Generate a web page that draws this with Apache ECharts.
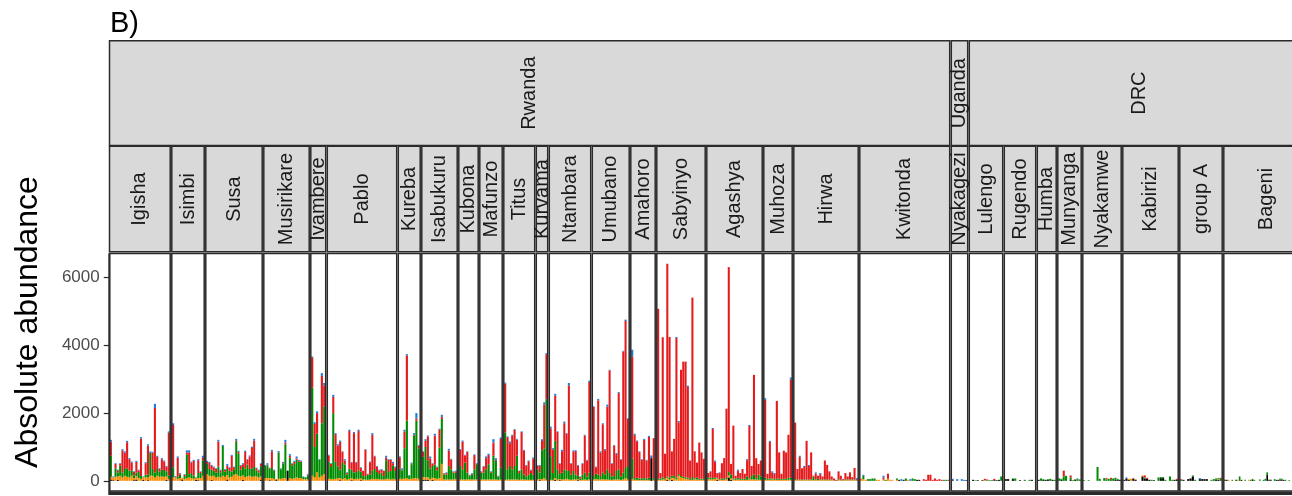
<!DOCTYPE html>
<html>
<head>
<meta charset="utf-8">
<script src="https://cdn.jsdelivr.net/npm/echarts@6/dist/echarts.min.js"></script>
<style>html,body{margin:0;padding:0;background:#fff;}#c{width:1292px;height:496px;}</style>
</head>
<body>
<div id="c"></div>
<script>
// ---------------- data ----------------
const panelNames = ['Igisha','Isimbi','Susa','Musirikare','Ivambere','Pablo','Kureba','Isabukuru','Kubona','Mafunzo','Titus','Kurvama','Ntambara','Umubano','Amahoro','Sabyinyo','Agashya','Muhoza','Hirwa','Kwitonda','Nyakagezi','Lulengo','Rugendo','Humba','Munyanga','Nyakamwe','Kabirizi','group A','Bageni'];
const countryNames = ['Rwanda','Uganda','DRC'];
const countryPanelCounts = [20, 1, 8];
const yTickValues = [0, 2000, 4000, 6000];

// stacked components, bottom to top: black, orange, green, red, blue (one inner array per group)
const blackVals = [
  [40,20,0,30,0,0,0,0,0,0, 20,40,0,0,30,0,20,0,0,0, 0,0,0,0,30,0],
  [0,0,0,0,40,0,0,0,0,0, 30,20,0,0],
  [0,0,30,0,0,0,0,0,0,40, 0,0,0,0,0,0,30,0,0,0, 0,0,0,0,30],
  [0,0,20,0,0,40,0,0,0,0, 300,0,0,0,0,0,0,0,0,0],
  [0,0,0,0,0,0],
  [0,0,0,0,0,20,0,0,0,0, 20,0,0,0,20,0,0,0,0,0, 0,0,0,0,0,0,0,0,0,0],
  [0,0,0,0,0,0,0,0,0],
  [30,40,30,0,30,0,0,0,0,0, 0,0,0,0,0],
  [0,0,0,0,0,0,0,0],
  [0,0,0,0,0,0,0,0,0],
  [0,0,0,0,0,0,0,0,0,0, 0,0,0],
  [0,20,0,0,0],
  [0,0,30,0,20,0,0,0,0,0, 0,0,20,0,0,0,0,0],
  [0,0,0,0,0,0,0,0,0,0, 0,0,0,0,0,0],
  [0,0,0,0,0,0,0,0,670,0],
  [0,0,0,0,30,0,30,0,0,0, 0,0,0,0,0,0,0,0,0,0, 0],
  [0,0,0,0,30,0,0,0,0,100, 30,0,0,0,0,0,0,0,0,0, 0,0,0,0],
  [0,0,0,0,0,0,0,0,0,0, 0,0],
  [0,0,0,0,0,0,0,0,0,0, 0,0,0,0,0,0,0,0,0,0, 0,0,0,0,0,0,0,0],
  [0,0,0,0,0,0,0,0,0,0, 0,0,0,0,0,0,0,30,0,30, 0,0,0,0,0,30,30,0,0,0, 0,0,0,0,0,0,0,0,0,0],
  [20,0,0,0,0,0,20],
  [0,30,0,20,0,20,0,0,0,0, 20,20,30,0],
  [50,50,0,50,0,0,20,0,0,0, 0,30,0],
  [30,0,30,30,30,0,30,0],
  [0,30,0,0,0,40,0,40,0,0],
  [0,0,0,0,0,0,0,0,0,0, 0,0,0,0,30,30,30],
  [30,70,30,0,70,30,0,0,130,70, 60,30,0,20,0,0,80,80,0,0, 0,0,30,30],
  [0,30,0,50,70,130,0,0,50,50, 50,50,0,0,0,30,30,0],
  [30,30,0,0,0,0,30,0,0,30, 0,0,0,0,0,30,0,0,0,0, 0,0,0,170,30,30,0,0,30,30, 30,30,30,0,0,0,0]
];
const orangeVals = [
  [80,80,120,100,150,100,150,120,100,150, 60,100,80,60,80,100,80,150,150,100, 150,120,130,120,100,60],
  [100,110,60,80,50,60,80,100,80,60, 50,60,80,150],
  [200,150,100,150,100,120,100,150,120,130, 100,120,180,200,150,130,130,110,130,150, 120,130,130,100,100],
  [80,80,60,80,60,20,60,60,80,80, 0,80,60,80,100,80,80,50,50,40],
  [150,100,250,100,150,200],
  [60,60,50,60,80,60,50,80,40,60, 60,50,60,60,50,40,40,30,40,60, 50,60,50,40,40,60,60,40,60,40],
  [60,60,60,80,50,60,80,80,60],
  [80,60,80,60,60,80,60,80,500,40, 40,40,40,40,60],
  [40,40,40,40,40,40,40,40],
  [40,40,40,40,40,40,40,30,40],
  [30,40,40,40,40,40,30,40,40,30, 30,30,30],
  [40,30,50,80,30],
  [30,30,50,40,30,40,40,60,40,30, 40,40,30,20,30,40,30,40],
  [40,60,40,40,50,40,40,30,30,40, 40,40,30,40,80,40],
  [60,30,30,20,20,30,20,30,0,30],
  [30,30,40,40,60,40,60,80,40,150, 100,80,60,60,30,30,40,40,30,30, 30],
  [60,40,40,60,40,30,30,30,50,60, 40,40,30,40,30,30,30,30,40,40, 40,40,30,30],
  [30,30,30,40,30,30,30,20,30,30, 30,30],
  [20,20,20,20,20,20,20,20,20,20, 20,20,20,20,20,20,20,10,0,20, 20,10,20,20,20,20,20,10],
  [40,50,30,0,0,0,0,30,30,0, 40,0,60,30,30,0,30,0,0,0, 0,30,0,0,0,0,0,0,0,0, 0,0,0,0,0,0,0,0,0,0],
  [0,0,0,0,0,0,0],
  [0,0,0,0,0,0,20,0,0,0, 0,0,0,0],
  [0,0,0,0,0,0,0,0,0,0, 0,0,0],
  [0,0,0,0,0,0,0,0],
  [0,0,0,0,0,0,0,10,0,0],
  [0,0,0,0,0,0,0,0,0,0, 0,0,0,0,0,0,0],
  [0,0,30,60,0,20,0,0,30,0, 0,0,0,0,0,0,0,0,0,0, 0,0,0,0],
  [0,0,0,0,0,0,0,0,0,0, 0,0,0,0,0,0,20,0],
  [0,0,30,0,0,0,0,30,0,0, 0,0,0,30,0,0,0,0,0,0, 0,0,0,0,0,0,0,0,0,0, 0,0,0,0,0,0,0]
];
const greenVals = [
  [620,0,250,120,300,150,200,250,200,150, 80,100,180,80,0,80,80,680,200,150, 200,150,200,200,150,100],
  [300,0,60,100,0,80,700,100,150,100, 20,150,150,450],
  [300,200,200,150,150,300,150,880,150,180, 200,150,150,950,650,200,250,250,350,200, 250,280,180,150,300],
  [370,380,280,300,230,0,780,280,420,1000, 0,600,400,420,520,480,480,60,50,120],
  [2600,900,1150,520,1550,2000],
  [500,350,1950,500,350,250,500,400,150,300, 250,200,200,250,200,100,100,150,150,250, 300,200,150,200,100,550,200,250,400,250],
  [300,250,900,1700,100,430,1250,1700,900],
  [600,900,500,300,350,400,250,900,1330,150, 150,400,300,200,180],
  [400,300,500,200,100,150,300,450],
  [200,200,300,450,200,700,550,100,350],
  [1400,300,400,300,400,700,200,300,150,100, 150,200,150],
  [300,200,850,880,2380],
  [700,200,1100,300,150,200,300,250,250,150, 250,150,100,50,150,200,100,200],
  [100,150,150,100,200,150,300,200,100,100, 250,300,100,200,300,400],
  [600,50,60,50,50,50,50,60,0,50],
  [30,40,60,30,40,60,60,60,60,50, 40,40,40,40,30,80,30,60,30,30, 30],
  [40,60,40,40,20,20,40,30,40,100, 120,30,40,50,30,30,30,100,30,100, 150,40,150,100],
  [60,30,40,30,30,30,30,30,30,30, 60,60],
  [30,20,20,20,20,20,20,20,100,20, 40,20,20,20,20,20,20,10,0,20, 20,10,20,20,20,20,20,10],
  [0,100,0,50,50,70,70,0,0,0, 0,30,0,0,0,0,40,0,0,0, 70,0,0,70,50,0,0,0,0,0, 0,0,0,0,0,0,0,30,30,0],
  [0,0,0,0,0,0,0],
  [0,0,15,0,0,0,0,20,20,20, 0,0,0,130],
  [0,0,0,20,70,0,0,0,30,0, 30,0,0],
  [0,70,20,0,20,60,0,30],
  [70,30,130,150,0,60,20,0,50,40],
  [20,0,20,0,0,0,410,60,0,80, 40,60,50,70,60,30,0],
  [0,0,0,0,0,0,0,0,0,30, 0,0,30,0,0,100,30,30,30,0, 130,30,0,0],
  [30,0,0,0,0,30,30,0,0,0, 0,0,0,30,50,40,30,60],
  [0,0,0,0,30,0,0,0,130,0, 0,30,0,0,30,30,30,0,0,40, 0,30,60,80,0,0,0,50,0,0, 40,30,0,30,0,20,0]
];
const redVals = [
  [420,0,130,60,50,650,480,770,340,240, 100,320,50,1110,0,340,860,0,480,1900, 360,80,310,250,140,1260],
  [1250,0,560,30,0,40,60,640,310,430, 0,380,30,90],
  [60,180,110,100,100,740,60,0,60,100, 80,470,70,30,60,120,80,490,140,370, 600,780,60,60,70],
  [0,20,20,490,20,0,0,10,20,50, 0,60,40,60,40,30,20,0,0,20],
  [900,680,600,0,1400,620],
  [190,90,480,820,610,820,300,120,40,1110, 210,1160,280,1160,110,150,780,20,360,1050, 370,160,110,90,150,80,360,330,60,110],
  [340,20,500,1920,0,20,30,60,80],
  [140,180,700,300,60,860,90,540,60,20, 40,455,290,20,40],
  [470,820,210,610,20,20,420,10],
  [20,180,330,270,20,390,30,10,850],
  [1440,950,670,990,1070,480,60,1100,705,320, 400,80,480],
  [100,200,280,1300,1330],
  [820,700,1330,1100,300,635,1360,1080,2530,320, 570,690,300,50,320,1100,470,2680],
  [2040,190,2190,700,1420,715,1850,3030,370,900, 500,2250,490,3580,4340,1390],
  [3010,1270,1080,780,550,1130,530,1210,0,1180],
  [5020,160,4140,730,6280,4150,720,1100,4120,1530, 3140,3400,3420,2670,540,5300,800,440,1070,780, 590],
  [130,180,1450,470,140,180,450,610,2040,6050, 310,1560,80,210,170,290,150,480,1550,300, 2940,590,320,470],
  [2300,150,1080,180,140,2300,780,160,830,780, 1270,2900],
  [1670,310,670,330,370,1140,400,800,30,180, 90,160,90,560,430,240,90,50,30,240, 110,30,190,90,210,70,340,30],
  [20,0,0,0,0,0,0,0,0,0, 60,0,150,0,0,0,0,0,0,0, 0,0,0,0,0,0,0,0,50,30, 180,180,30,70,30,50,30,0,0,30],
  [0,0,0,0,0,0,0],
  [0,0,0,0,0,0,40,20,0,0, 40,0,0,0],
  [0,0,0,0,0,0,0,0,0,0, 0,0,0],
  [0,0,0,0,0,0,0,0],
  [0,0,170,0,0,60,0,0,0,0],
  [0,0,0,0,0,0,0,0,0,0, 40,0,40,0,0,0,0],
  [0,0,0,0,0,0,0,0,0,60, 30,0,0,0,0,0,0,0,0,0, 0,0,0,30],
  [20,0,0,0,0,0,0,0,0,0, 0,0,0,0,0,0,0,30],
  [0,0,0,0,0,0,0,0,0,0, 0,0,0,0,0,0,0,0,0,0, 0,0,0,0,0,0,0,0,0,0, 0,0,0,0,0,0,0]
];
const blueVals = [
  [50,30,20,20,20,35,40,40,30,30, 20,30,20,40,20,30,40,40,30,125, 30,20,30,30,20,40],
  [50,30,40,20,0,20,60,60,30,30, 0,30,20,50],
  [30,30,30,20,20,50,20,30,20,50, 20,30,20,60,30,20,30,40,20,30, 40,50,20,20,20],
  [20,40,10,45,20,0,40,20,40,80, 0,50,20,30,60,30,20,20,10,20],
  [20,50,50,20,80,70],
  [20,20,60,30,40,40,20,40,20,40, 20,30,20,40,20,10,15,10,20,50, 20,20,20,20,10,50,20,20,40,20],
  [20,40,50,40,20,30,50,160,20],
  [20,50,30,60,20,50,20,20,60,20, 20,50,20,20,20],
  [25,30,20,20,20,20,20,20],
  [20,20,50,40,20,100,50,10,40],
  [30,20,50,30,20,20,10,20,20,20, 20,20,30],
  [20,20,50,60,30],
  [50,35,60,20,20,40,50,20,70,20, 40,20,20,10,20,20,20,40],
  [20,20,40,30,30,30,60,20,20,20, 30,30,20,20,40,20],
  [200,40,20,20,20,30,20,30,80,0],
  [0,0,0,0,0,0,0,0,30,40, 0,0,0,40,0,0,0,0,0,0, 0],
  [0,0,30,30,0,20,0,0,0,0, 0,0,0,30,0,0,0,30,30,0, 0,0,0,0],
  [50,0,30,30,30,0,0,0,0,0, 0,60],
  [0,0,30,0,30,0,30,0,0,30, 0,30,0,0,0,0,0,0,0,0, 0,0,0,0,0,0,0,30],
  [0,30,0,0,0,0,0,0,0,0, 50,0,0,0,0,0,0,0,50,0, 0,0,50,0,0,0,0,0,0,0, 0,0,0,0,0,0,0,0,0,0],
  [40,0,50,0,50,30,0],
  [0,0,0,0,0,0,0,0,0,0, 0,0,0,0],
  [0,0,0,0,0,0,0,0,0,0, 0,0,0],
  [0,0,0,0,0,0,0,0],
  [0,0,0,0,0,0,0,0,20,0],
  [0,0,0,0,0,0,0,0,0,0, 0,0,0,0,0,0,0],
  [0,30,0,0,0,0,0,0,0,0, 0,0,0,0,0,0,0,0,0,0, 0,0,0,0],
  [0,0,0,0,0,0,0,0,30,0, 0,0,0,0,0,0,0,0],
  [0,0,0,0,0,0,0,0,0,0, 0,0,0,0,0,0,0,0,0,0, 0,0,0,0,0,0,0,0,0,0, 0,0,0,0,0,0,0]
];

// ---------------- layout / style ----------------
const edges = [108.7,171,205,263,310,326.5,397.5,421,458,479,503,535.5,548.5,591.5,630,656,706,763,793,859,950.5,968.5,1003.5,1036.5,1057,1082,1122,1179,1223,1310];
const HG = 0.8;             // half gap between panels
const pTop = 253.4, pBot = 491;
const s1Top = 40.7, s1Bot = 145.6, s2Top = 146.3, s2Bot = 251.8;
const FONT = '"Liberation Sans", Arial, Helvetica, sans-serif';
const LINE = '#2b2b2b';
const LW = 1.5;
const colors = ['#000000', '#ff8c00', '#008b00', '#e41a1c', '#1f7ad6'];
const compNames = ['black', 'orange', 'green', 'red', 'blue'];
const comps = [blackVals, orangeVals, greenVals, redVals, blueVals];

const grids = [], xAxes = [], yAxes = [], series = [], gfx = [];

function txt(x, y, text, size, color, rot, align) {
  return {
    type: 'text', x: x, y: y, rotation: rot || 0, z: 120,
    style: {
      text: text, fill: color, fontSize: size, fontFamily: FONT,
      align: align || 'center', verticalAlign: 'middle',
      textAlign: align || 'center', textVerticalAlign: 'middle'
    }
  };
}

panelNames.forEach(function (name, i) {
  const n = blackVals[i].length;
  const pl = edges[i] + HG, pr = edges[i + 1] - HG;
  const w = (pr - pl) / (n + 0.2);
  grids.push({ left: pl + 0.1 * w, width: n * w, top: pTop, height: pBot - pTop, containLabel: false });
  xAxes.push({
    type: 'category', gridIndex: i, show: false, boundaryGap: true,
    data: blackVals[i].map(function (_, k) { return name + ' ' + (k + 1); })
  });
  const first = i === 0;
  yAxes.push({
    type: 'value', gridIndex: i, min: -300, max: 6716, show: first,
    splitLine: { show: false }, axisLine: { show: false },
    axisTick: first ? { show: true, customValues: yTickValues, length: 6, lineStyle: { color: LINE, width: 1.2 } } : { show: false },
    axisLabel: first ? { show: true, customValues: yTickValues, color: '#4d4d4d', fontSize: 17, fontFamily: FONT, margin: 10,
      formatter: function (v) { return String(v); } } : { show: false }
  });
  comps.forEach(function (arr, s) {
    series.push({
      type: 'bar', name: compNames[s], xAxisIndex: i, yAxisIndex: i, stack: 'p' + i,
      data: arr[i], barCategoryGap: '10%', itemStyle: { color: colors[s] },
      silent: true, animation: false
    });
  });
  // lower strip
  gfx.push({ type: 'rect', z: 110, shape: { x: pl, y: s2Top, width: pr - pl, height: s2Bot - s2Top },
    style: { fill: '#d9d9d9', stroke: LINE, lineWidth: LW } });
  gfx.push(txt((pl + pr) / 2, (s2Top + s2Bot) / 2, name, 20, '#1a1a1a', Math.PI / 2));
  // panel border
  gfx.push({ type: 'rect', z: 115, shape: { x: pl, y: pTop, width: pr - pl, height: pBot - pTop },
    style: { fill: 'transparent', stroke: LINE, lineWidth: LW } });
});

// country strips
let startIdx = 0;
countryNames.forEach(function (c, k) {
  const endIdx = startIdx + countryPanelCounts[k];
  const x0 = edges[startIdx] + HG, x1 = edges[endIdx] - HG;
  gfx.push({ type: 'rect', z: 110, shape: { x: x0, y: s1Top, width: x1 - x0, height: s1Bot - s1Top },
    style: { fill: '#d9d9d9', stroke: LINE, lineWidth: LW } });
  gfx.push(txt((x0 + x1) / 2, (s1Top + s1Bot) / 2, c, 20, '#1a1a1a', Math.PI / 2));
  startIdx = endIdx;
});

// axis lines
gfx.push({ type: 'line', z: 116, shape: { x1: edges[0], y1: 493.2, x2: 1310, y2: 493.2 }, style: { stroke: LINE, lineWidth: 3.6 } });
gfx.push({ type: 'line', z: 116, shape: { x1: 109.4, y1: pTop, x2: 109.4, y2: 495 }, style: { stroke: LINE, lineWidth: 2 } });

// titles
gfx.push(txt(110, 24, 'B)', 29, '#000000', 0, 'left'));
gfx.push(txt(28, 322, 'Absolute abundance', 32, '#000000', Math.PI / 2));

const chart = echarts.init(document.getElementById('c'), null, { renderer: 'canvas' });
chart.setOption({
  animation: false,
  backgroundColor: '#ffffff',
  grid: grids,
  xAxis: xAxes,
  yAxis: yAxes,
  series: series,
  graphic: { elements: gfx }
});
</script>
</body>
</html>
